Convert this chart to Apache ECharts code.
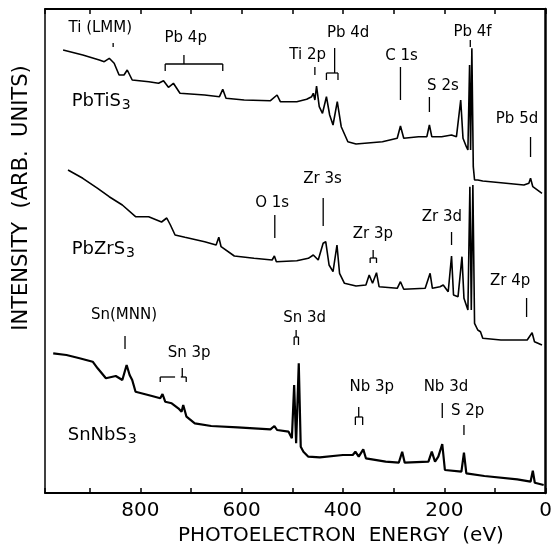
<!DOCTYPE html>
<html><head><meta charset="utf-8">
<script src="https://cdn.jsdelivr.net/npm/echarts@6/dist/echarts.min.js"></script>
<style>html,body{margin:0;padding:0;background:#fff}#c{width:555px;height:548px}</style>
</head><body><div id="c"></div>
<script>
// Photoelectron energy (eV) vs intensity (arb. units, stacked offsets)
const energyTicks = [0, 200, 400, 600, 800];

const pbTiS3 = [
 [952.3,443],[913.4,438],[880.8,433],[871.1,431.3],[861.2,434.7],[851.5,429.7],[841.8,418],[832.1,418],
 [825.7,423],[815.9,413],[783.1,411.3],[763.9,409.7],[754.1,412.3],[744.4,405.7],[734.6,409.7],[721.6,399.7],
 [672.9,398],[643.7,396.3],[637.2,403.7],[630.8,394.7],[594.9,393],[543.1,392.3],[530.0,398],[523.6,391.3],
 [491.1,391.3],[471.6,393.7],[461.8,396.3],[458.5,399.7],[455.4,393],[452.1,407],[446.8,386.3],[440.4,379.7],
 [432.6,396.3],[426.2,378],[419.6,368],[411.2,391.3],[403.4,366.3],[390.3,351.3],[374.2,349],[322.1,351.3],
 [292.9,354.7],[286.5,367],[280.0,354.7],[250.8,356.3],[234.4,356.3],[229.4,368],[224.7,356.3],[205.2,356.3],
 [185.7,358],[176.0,356.3],[167.6,393],[163.1,354.7],[156.5,346.3],[153.4,343],[150.1,428],[148.1,343],
 [145.6,444.7],[142.8,326.3],[140.3,313],[133.9,313],[124.1,312],[88.3,310.3],[42.9,308],[33.1,309.7],
 [29.8,314.7],[25.3,306.3],[7.2,299.7]
];

const pbZrS3 = [
 [942.6,323],[913.4,314.7],[884.1,304.7],[861.3,296.3],[835.4,288],[809.3,276.3],[783.4,276.3],[758.0,271],
 [747.7,275],[740.5,268],[731.3,258],[711.9,255.7],[672.9,251.3],[650.3,248],[645.0,255.7],[640.5,246.3],
 [614.4,237],[575.5,234.7],[539.8,233],[535.3,237],[531.4,231.3],[491.1,232.3],[468.3,234.7],[458.5,238],
 [448.8,233],[439.1,249.7],[434.0,251.3],[427.4,228],[419.6,221.3],[411.8,248],[406.7,219.7],[397.0,209.7],
 [374.2,207],[354.7,208],[348.2,218],[341.6,209.7],[333.8,220.3],[328.7,206.3],[292.9,204.7],[286.5,211.3],
 [280.0,203.7],[237.7,204.7],[228.0,219.7],[223.5,204.7],[208.5,206.3],[202.1,208],[192.3,201.3],[185.7,237],
 [181.8,198],[172.9,196.3],[165.1,236.3],[161.2,194.7],[153.4,183],[149.5,306.3],[146.7,183],[143.6,308],
 [140.3,169.7],[133.9,163],[128.6,161.3],[124.1,154.7],[88.3,153],[36.4,153],[26.7,160.3],[22.0,151.3],[7.2,148]
];

const snNbS3 = [
 [971.8,139.7],[945.7,138],[919.8,134.7],[893.9,131.3],[884.1,124.7],[867.8,114.7],[848.3,117],[835.4,113],
 [826.9,128],[821.0,118],[815.9,113],[809.3,101.3],[776.9,97],[760.6,94.7],[756.1,99],[750.8,91.3],
 [738.0,89.7],[724.9,84.7],[718.5,81.3],[715.2,88],[708.8,76.3],[692.4,69.7],[660.0,67],[608.0,65.7],
 [543.1,63.7],[535.3,67],[530.0,63],[507.3,61.3],[500.8,54.7],[496.3,108],[492.4,49.7],[487.2,129.7],
 [483.3,46.3],[478.0,41.3],[468.3,36.3],[445.7,35.7],[400.1,38],[380.6,38],[375.5,41.3],[368.9,36.3],
 [359.9,43.7],[354.7,34.7],[315.7,31.3],[289.8,30.3],[283.1,41.3],[278.1,30.3],[231.3,31.3],[224.7,41.3],
 [218.3,31.3],[211.8,36.3],[204.0,49],[198.8,23],[166.2,21.3],[161.2,40.3],[156.5,19.7],[120.8,17],
 [55.9,13.7],[29.8,11.3],[25.3,22.3],[21.4,10.3],[3.9,8]
];

// peak labels: [text, energy, intensity]
const peakLabels = [
 ['Ti (LMM)',878.9,465],['Pb 4p',710.3,455],['Ti 2p',469.6,438],['Pb 4d',389.7,460],['C 1s',284.5,437],
 ['S 2s',202.7,407],['Pb 4f',144.2,461],['Pb 5d',56.5,374],
 ['O 1s',539.8,290],['Zr 3s',440.4,314],['Zr 3p',341.0,259],['Zr 3d',204.6,276],['Zr 4p',70.2,212],
 ['Sn(MNN)',832.1,178],['Sn 3p',703.5,140],['Sn 3d',475.5,175],['Nb 3p',343.0,106],['Nb 3d',196.8,106],['S 2p',154.0,82]
];

// marker strokes: [e1, i1, e2, i2]
const peakMarks = [
 [853.5,450,853.5,446],
 [750.8,429,637.2,429],[750.8,429,750.8,422],[637.2,429,637.2,422],[713.8,438,713.8,429],
 [455.4,426,455.4,418],
 [416.4,445,416.4,420],[432.6,420,409.8,420],[432.6,420,432.6,413],[409.8,420,409.8,413],
 [286.5,426,286.5,393],
 [229.4,396,229.4,381],
 [148.7,453,148.7,446],
 [29.8,356,29.8,336],
 [534.5,278,534.5,255],
 [439.0,295,439.0,267],
 [340.4,243,340.4,235],[346.3,235,333.8,235],[346.3,235,346.3,230],[333.8,235,333.8,230],
 [185.7,261,185.7,248],
 [37.6,195,37.6,176],
 [830.1,157,830.1,144],
 [760.6,116,731.3,116],[760.6,116,760.6,111],[717.1,125,717.1,116],[720.0,116,709.3,116],[709.3,116,709.3,111],
 [492.4,163,492.4,156],[496.3,156,487.8,156],[496.3,156,496.3,148],[487.8,156,487.8,148],
 [368.9,86,368.9,76],[375.5,76,361.1,76],[375.5,76,375.5,68],[361.1,76,361.1,68],
 [204.0,90,204.0,75],
 [161.2,68,161.2,58]
];

// compound names: [formula, subscript, energy (left edge), intensity]
const compounds = [
 ['PbTiS','3',935.4,392],
 ['PbZrS','3',935.4,244],
 ['SnNbS','3',943.2,58]
];

const FONT = 'DejaVu Sans';
const chart = echarts.init(document.getElementById('c'), null, {renderer:'canvas'});
const lineSeries = (name, data, w) => ({
  name, type:'line', data, showSymbol:false, symbol:'none', animation:false,
  lineStyle:{color:'#000', width:w}, xAxisIndex:0, yAxisIndex:0, z:3
});
const xAxisBase = (pos, showLabel) => ({
  type:'value', inverse:true, min:0, max:988, interval:100, position:pos,
  axisLine:{onZero:false, lineStyle:{color:'#000', width:2}},
  axisTick:{inside:true, length:5, lineStyle:{color:'#000', width:1.5}},
  axisLabel:{show:showLabel, color:'#000', fontFamily:FONT, fontSize:20, margin:8,
    formatter:v => energyTicks.indexOf(v) >= 0 ? String(v) : ''},
  splitLine:{show:false}
});
chart.setOption({
  animation:false,
  backgroundColor:'#fff',
  grid:{left:45, right:3, top:9, bottom:55, containLabel:false},
  xAxis:[xAxisBase('bottom', true), xAxisBase('top', false)],
  yAxis:[{
    type:'value', min:0, max:484, position:'left',
    axisLine:{show:true, onZero:false, lineStyle:{color:'#000', width:1.5}},
    axisTick:{show:false}, axisLabel:{show:false}, splitLine:{show:false}
  },{
    type:'value', min:0, max:484, position:'right',
    axisLine:{show:true, onZero:false, lineStyle:{color:'#000', width:2.5}},
    axisTick:{show:false}, axisLabel:{show:false}, splitLine:{show:false}
  }],
  graphic:[{
    type:'text', left:178, top:526,
    style:{text:'PHOTOELECTRON  ENERGY  (eV)', fill:'#000', font:'20px ' + FONT}
  },{
    type:'text', x:22, y:198, rotation:Math.PI/2,
    style:{text:'INTENSITY  (ARB.  UNITS)', fill:'#000', font:'21px ' + FONT,
      align:'center', verticalAlign:'middle'}
  }],
  series:[
    lineSeries('PbTiS3', pbTiS3, 1.6),
    lineSeries('PbZrS3', pbZrS3, 1.6),
    lineSeries('SnNbS3', snNbS3, 2.2),
    {
      type:'custom', name:'marks', clip:false, z:4,
      data: peakMarks,
      encode:{x:[0,2], y:[1,3]},
      renderItem:(params, api) => {
        const a = api.coord([api.value(0), api.value(1)]);
        const b = api.coord([api.value(2), api.value(3)]);
        return {type:'line', shape:{x1:a[0], y1:a[1], x2:b[0], y2:b[1]},
          style:{stroke:'#000', lineWidth:1.3}};
      }
    },{
      type:'custom', name:'peakLabels', clip:false, z:4,
      data: peakLabels.map((d, i) => [d[1], d[2], i]),
      encode:{x:0, y:1},
      renderItem:(params, api) => {
        const p = api.coord([api.value(0), api.value(1)]);
        return {type:'text', x:p[0], y:p[1],
          style:{text:peakLabels[api.value(2)][0], fill:'#000', font:'15px ' + FONT,
            align:'center', verticalAlign:'middle'}};
      }
    },{
      type:'custom', name:'compounds', clip:false, z:4,
      data: compounds.map((d, i) => [d[2], d[3], i]),
      encode:{x:0, y:1},
      renderItem:(params, api) => {
        const p = api.coord([api.value(0), api.value(1)]);
        const c = compounds[api.value(2)];
        return {type:'text', x:p[0], y:p[1],
          style:{text:'{a|' + c[0] + '}{b|' + c[1] + '}', align:'left', verticalAlign:'middle',
            rich:{a:{fill:'#000', fontFamily:FONT, fontSize:18, lineHeight:22},
                  b:{fill:'#000', fontFamily:FONT, fontSize:14, lineHeight:22, padding:[9,0,0,1]}}}};
      }
    }
  ]
});
</script></body></html>
